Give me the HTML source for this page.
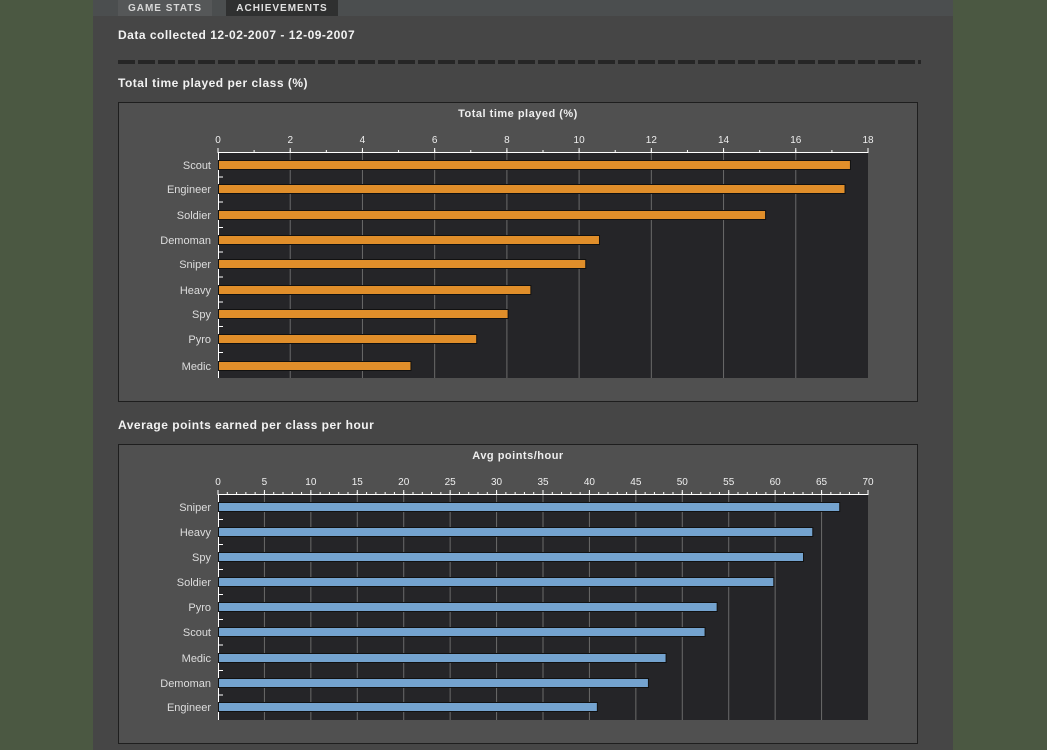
<!DOCTYPE html>
<html><head><meta charset="utf-8"><style>
html,body{margin:0;padding:0;width:1047px;height:750px;overflow:hidden;background:#4b5842;}
svg{position:absolute;left:0;top:0}
</style></head><body>
<svg id="s" width="1047" height="750" xmlns="http://www.w3.org/2000/svg" font-family="Liberation Sans, sans-serif">
<rect x="93" y="0" width="860" height="750" fill="#464646"/>
<rect x="93" y="0" width="860" height="16" fill="#4b4e4f"/>
<rect x="118" y="0" width="94" height="16" fill="#555758"/>
<rect x="226" y="0" width="112" height="16" fill="#2f3030"/>
<text x="165" y="11" fill="#d8d8d8" font-size="10" font-weight="bold" text-anchor="middle" letter-spacing="1">GAME STATS</text>
<text x="282" y="11" fill="#e0e0e0" font-size="10" font-weight="bold" text-anchor="middle" letter-spacing="1">ACHIEVEMENTS</text>
<text x="118" y="39" fill="#f2f2f2" font-size="12" font-weight="bold" letter-spacing="0.5">Data collected 12-02-2007 - 12-09-2007</text>
<line x1="118" y1="62" x2="921" y2="62" stroke="#262626" stroke-width="4" stroke-dasharray="17,3"/>
<text x="118" y="87" fill="#f2f2f2" font-size="12" font-weight="bold" letter-spacing="0.5">Total time played per class (%)</text>
<text x="118" y="429" fill="#f2f2f2" font-size="12" font-weight="bold" letter-spacing="0.5">Average points earned per class per hour</text>
<g id="c"></g>
</svg>
<script>
var ns="http://www.w3.org/2000/svg",g=document.getElementById('c');
function el(t,a,txt){var e=document.createElementNS(ns,t);for(var k in a)e.setAttribute(k,a[k]);if(txt!=null)e.textContent=txt;g.appendChild(e);return e;}
function chart(top,title,max,step,color,cats,vals,ys){
 var L=218,R=868,pt=top+51,pb=top+276;
 el('rect',{x:118.5,y:top+0.5,width:799,height:299,fill:'#505050',stroke:'#1e1e1e'});
 el('text',{x:518,y:top+15,fill:'#eee','font-size':11,'font-weight':'bold','text-anchor':'middle','letter-spacing':'0.5'},title);
 el('rect',{x:L,y:pt,width:R-L,height:pb-pt,fill:'#252528'});
 var sc=(R-L)/max;
 for(var v=0;v<=max;v+=step){var x=L+v*sc;
  if(v>0&&v<max)el('line',{x1:x,y1:pt,x2:x,y2:pb,stroke:'#6a6a6a'});
  el('line',{x1:x,y1:pt-5,x2:x,y2:pt,stroke:'#fff'});
  el('text',{x:x,y:pt-10,fill:'#eee','font-size':10,'text-anchor':'middle'},String(v));}
 for(var v=0;v<=max;v+=1){var x=L+v*sc;el('line',{x1:x,y1:pt-3,x2:x,y2:pt,stroke:'#fff'});}
 el('line',{x1:L,y1:pt-0.5,x2:R,y2:pt-0.5,stroke:'#fff'});
 el('line',{x1:L+0.5,y1:pt,x2:L+0.5,y2:pb,stroke:'#fff'});
 for(var i=0;i<cats.length;i++){var y=ys[i];
  el('rect',{x:L+0.5,y:y-4.5,width:vals[i]*sc,height:9,fill:color,stroke:'#111','stroke-width':1});
  el('text',{x:211,y:y+4,fill:'#ddd','font-size':11,'text-anchor':'end'},cats[i]);
  if(i<cats.length-1){var ty=(y+ys[i+1])/2;el('line',{x1:L,y1:ty,x2:L+5,y2:ty,stroke:'#fff'});}
 }
}
chart(102,'Total time played (%)',18,2,'#e08e2a',
 ['Scout','Engineer','Soldier','Demoman','Sniper','Heavy','Spy','Pyro','Medic'],
 [17.5,17.35,15.15,10.55,10.17,8.65,8.02,7.15,5.33],
 [165,189,215,240,264,290,314,339,366]);
chart(444,'Avg points/hour',70,5,'#74a3cf',
 ['Sniper','Heavy','Spy','Soldier','Pyro','Scout','Medic','Demoman','Engineer'],
 [66.9,64,63,59.8,53.7,52.4,48.2,46.3,40.8],
 [507,532,557,582,607,632,658,683,707]);
</script>
</body></html>
